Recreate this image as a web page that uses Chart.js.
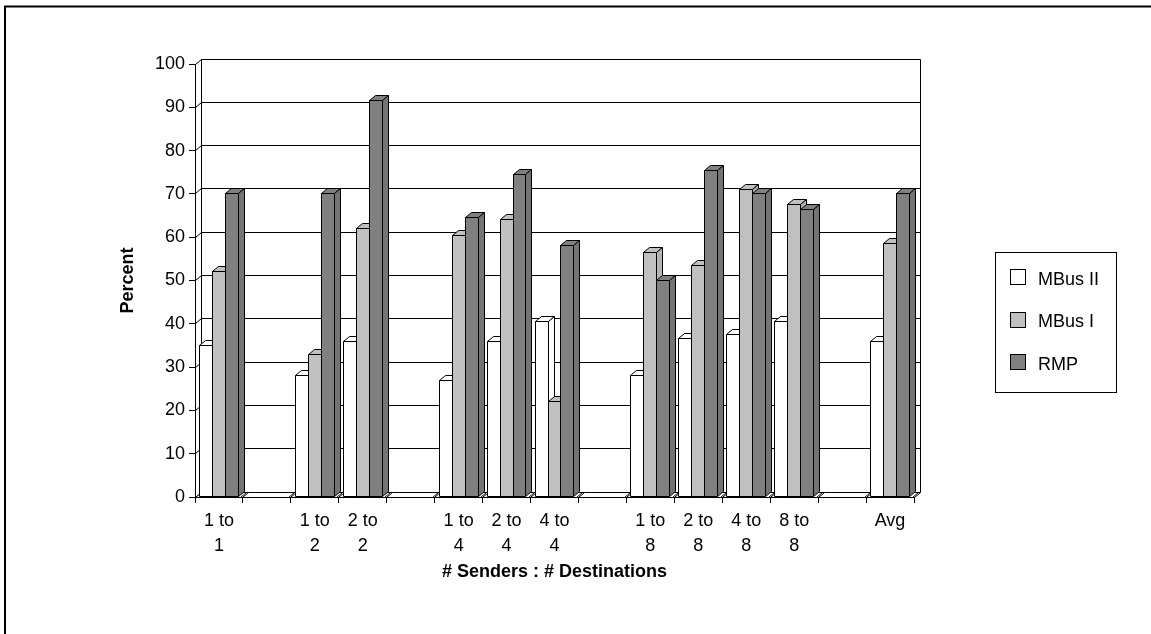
<!DOCTYPE html>
<html>
<head>
<meta charset="utf-8">
<script src="https://cdn.jsdelivr.net/npm/chart.js@4.4.0/dist/chart.umd.min.js"></script>
<style>
  html, body { margin: 0; padding: 0; background: #fff; }
  #wrap { width: 1151px; height: 634px; position: relative; }
</style>
</head>
<body>
<div id="wrap"><canvas id="c" width="1151" height="634"></canvas></div>
<script>
// Sender:destination groupings (blank entries are spacer slots between groups)
const categories = [
  ['1 to', '1'], '',
  ['1 to', '2'], ['2 to', '2'], '',
  ['1 to', '4'], ['2 to', '4'], ['4 to', '4'], '',
  ['1 to', '8'], ['2 to', '8'], ['4 to', '8'], ['8 to', '8'], '',
  'Avg'
];
const mbus2 = [35, null, 28, 36, null, 27, 36, 40.5, null, 28, 36.5, 37.5, 40.5, null, 36];
const mbus1 = [52, null, 33, 62, null, 60.5, 64, 22, null, 56.5, 53.5, 71, 67.5, null, 58.5];
const rmp   = [70, null, 70, 91.5, null, 64.5, 74.5, 58, null, 50, 75.5, 70, 66.5, null, 70];

const seriesNames = ['MBus II', 'MBus I', 'RMP'];
const seriesColors = ['#ffffff', '#c0c0c0', '#808080'];
const sideColors = ['#ffffff', '#b4b4b4', '#747474'];

const yMin = 0, yMax = 100, yStep = 10;
const xTitle = '# Senders : # Destinations';
const yTitle = 'Percent';

const FONT = "'Liberation Sans', Arial, sans-serif";
const DX = 6, DY = 5;           // depth offset of walls and columns
const snap = v => Math.floor(v) + 0.5;

Chart.defaults.font.family = FONT;
Chart.defaults.font.size = 18;
Chart.defaults.color = '#000';

function poly(ctx, pts, fill) {
  ctx.beginPath();
  ctx.moveTo(pts[0][0], pts[0][1]);
  for (let i = 1; i < pts.length; i++) ctx.lineTo(pts[i][0], pts[i][1]);
  ctx.closePath();
  if (fill) { ctx.fillStyle = fill; ctx.fill(); }
  ctx.stroke();
}

// Walls, floor and 3-D column faces
const depthPlugin = {
  id: 'depth3d',
  beforeDatasetsDraw(chart) {
    const { ctx, scales: { x, y } } = chart;
    const L = snap(x.left), R = snap(x.right), B = snap(y.bottom), T = snap(y.top);
    ctx.save();
    ctx.strokeStyle = '#000';
    ctx.lineWidth = 1;
    // back-wall gridlines with their left-wall connectors
    y.ticks.forEach(t => {
      const yy = snap(y.getPixelForValue(t.value));
      ctx.beginPath();
      ctx.moveTo(L, yy);
      ctx.lineTo(L + DX, yy - DY);
      ctx.lineTo(R + DX, yy - DY);
      ctx.stroke();
    });
    // wall edges and floor corner
    ctx.beginPath();
    ctx.moveTo(L + DX, B - DY); ctx.lineTo(L + DX, T - DY);
    ctx.moveTo(R + DX, T - DY); ctx.lineTo(R + DX, B - DY); ctx.lineTo(R, B);
    ctx.stroke();
    // flat base slab for every category slot
    const n = chart.data.labels.length;
    const cw = (x.right - x.left) / n;
    for (let i = 0; i < n; i++) {
      const c = x.getPixelForValue(i);
      const a = snap(c - cw / 2), b = snap(c + cw / 2 - 2);
      poly(ctx, [[a, B], [a + DX, B - DY], [b + DX, B - DY], [b, B]], '#ffffff');
    }
    ctx.restore();
  },
  afterDatasetsDraw(chart) {
    const ctx = chart.ctx;
    const n = chart.data.labels.length;
    ctx.save();
    ctx.strokeStyle = '#000';
    ctx.lineWidth = 1;
    ctx.lineJoin = 'miter';
    for (let i = 0; i < n; i++) {
      chart.data.datasets.forEach((ds, d) => {
        if (ds.data[i] == null) return;
        const el = chart.getDatasetMeta(d).data[i];
        const l = snap(el.x - el.width / 2), r = snap(el.x + el.width / 2);
        const t = snap(el.y), b = snap(el.base);
        poly(ctx, [[l, t], [r, t], [r, b], [l, b]], ds.backgroundColor);
        poly(ctx, [[l, t], [l + DX, t - DY], [r + DX, t - DY], [r, t]], ds.backgroundColor);
        poly(ctx, [[r, t], [r + DX, t - DY], [r + DX, b - DY], [r, b]], sideColors[d]);
      });
    }
    ctx.restore();
  }
};

// Boxed legend at the right
const legendBox = {
  id: 'legendBox',
  afterDraw(chart) {
    const ctx = chart.ctx;
    ctx.save();
    ctx.strokeStyle = '#000';
    ctx.lineWidth = 1;
    ctx.strokeRect(995.5, 252.5, 121, 140);
    ctx.font = '18px ' + FONT;
    ctx.textBaseline = 'middle';
    ctx.textAlign = 'left';
    chart.data.datasets.forEach((ds, i) => {
      const cy = 277 + i * 42.5;
      const top = Math.round(cy - 8) + 0.5;
      ctx.fillStyle = ds.backgroundColor;
      ctx.fillRect(1010.5, top, 15, 15);
      ctx.strokeRect(1010.5, top, 15, 15);
      ctx.fillStyle = '#000';
      ctx.fillText(ds.label, 1038, cy + 3);
    });
    ctx.restore();
  }
};

// Outer frame (top and left edges)
const framePlugin = {
  id: 'frame',
  afterDraw(chart) {
    const ctx = chart.ctx;
    ctx.save();
    ctx.strokeStyle = '#000';
    ctx.lineWidth = 2;
    ctx.beginPath();
    ctx.moveTo(5, 634);
    ctx.lineTo(5, 6.5);
    ctx.lineTo(1151, 6.5);
    ctx.stroke();
    ctx.restore();
  }
};

new Chart(document.getElementById('c'), {
  type: 'bar',
  data: {
    labels: categories,
    datasets: [
      { label: seriesNames[0], data: mbus2, backgroundColor: seriesColors[0], borderWidth: 0 },
      { label: seriesNames[1], data: mbus1, backgroundColor: seriesColors[1], borderWidth: 0 },
      { label: seriesNames[2], data: rmp,   backgroundColor: seriesColors[2], borderWidth: 0 }
    ]
  },
  options: {
    responsive: false,
    animation: false,
    devicePixelRatio: 1,
    layout: { padding: { left: 0, top: 64, right: 237, bottom: 0 } },
    categoryPercentage: 0.81,
    barPercentage: 1.0,
    plugins: {
      legend: { display: false },
      tooltip: { enabled: false }
    },
    scales: {
      x: {
        afterFit: s => { s.height = 137; },
        grid: { drawOnChartArea: false, drawTicks: true, tickLength: 6, color: '#000', offset: true },
        border: { display: true, color: '#000' },
        ticks: {
          autoSkip: false, maxRotation: 0, minRotation: 0, padding: 6,
          font: { size: 18, lineHeight: 25 / 18 }
        },
        title: {
          display: true, text: xTitle,
          font: { size: 18, weight: 'bold' },
          padding: { top: 0, bottom: 51 }
        }
      },
      y: {
        min: yMin, max: yMax,
        afterFit: s => { s.width = 195; },
        grid: { drawOnChartArea: false, drawTicks: true, tickLength: 6, color: '#000' },
        border: { display: true, color: '#000' },
        ticks: { stepSize: yStep, padding: 4, font: { size: 18 } },
        title: {
          display: true, text: yTitle,
          font: { size: 18, weight: 'bold' },
          padding: { top: 117, bottom: 0 }
        }
      }
    }
  },
  plugins: [depthPlugin, legendBox, framePlugin]
});
</script>
</body>
</html>
